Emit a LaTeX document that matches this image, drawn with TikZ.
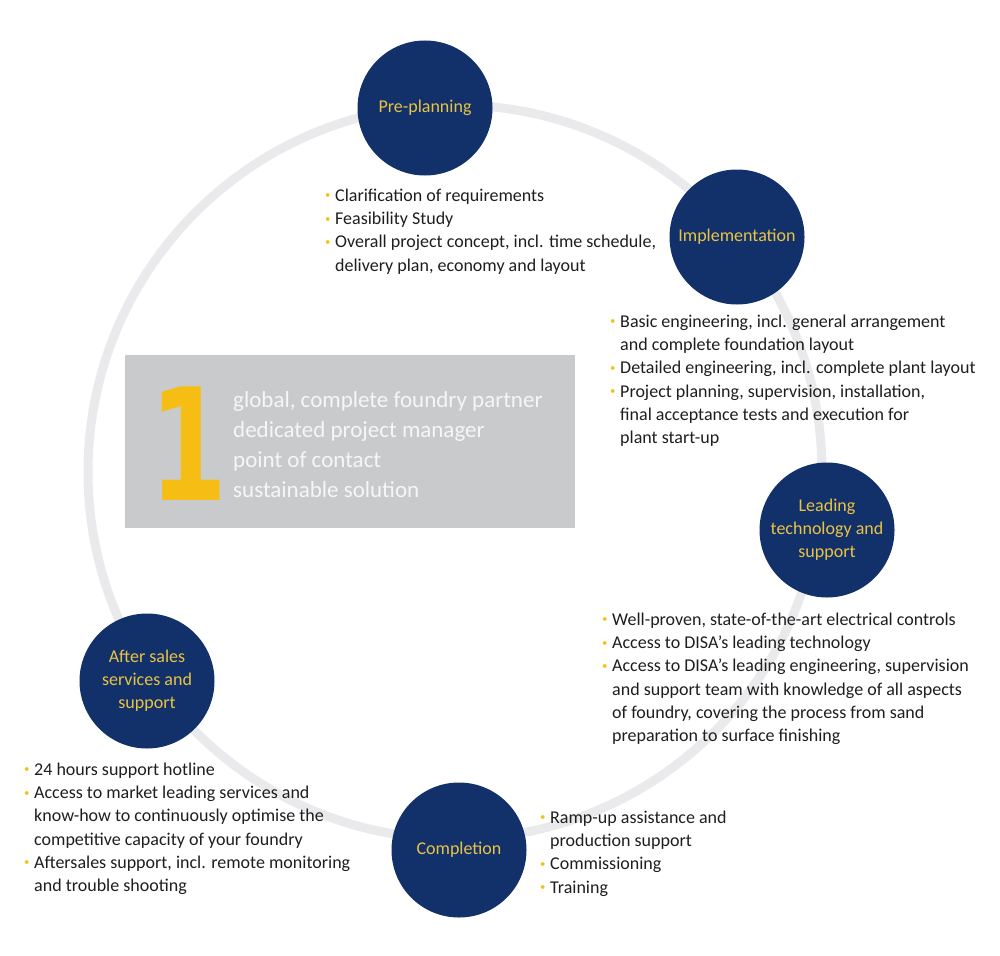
\documentclass[tikz,border=0pt]{standalone}
\usepackage{fontspec}
\setmainfont{Carlito}
\newfontfamily\numfont{DejaVu Sans}
\usetikzlibrary{positioning}

\definecolor{disanavy}{HTML}{12306A}
\definecolor{disayellow}{HTML}{F6BE14}
\definecolor{labelyellow}{HTML}{E9C443}
\definecolor{dotyellow}{HTML}{F2C21C}
\definecolor{ringgray}{HTML}{EAEAEC}
\definecolor{boxgray}{HTML}{C9CACC}
\definecolor{boxtext}{HTML}{F6F6F6}
\definecolor{textdark}{HTML}{1E1E1E}

\newcommand{\bulletmark}{\textcolor{dotyellow}{\raisebox{0.3ex}{\scalebox{0.6}{\textbullet}}}}
\newcommand{\itemrows}[1]{\begin{tabular}{@{}p{10pt}@{}l@{}}#1\end{tabular}}

\begin{document}
\begin{tikzpicture}[x=1pt, y=-1pt,
  stage/.style={circle, fill=disanavy, minimum size=135pt, inner sep=0pt,
    text=labelyellow, align=center, font=\fontsize{18}{23}\selectfont},
  itemlist/.style={anchor=north west, inner sep=0pt, text=textdark,
    font=\fontsize{18}{23.2}\selectfont},
  ring/.style={draw=ringgray, line width=9pt}]

\useasboundingbox (0,0) rectangle (1000,955);

% Ring through the stages
\draw [ring] (455,472) circle [radius=367pt];

% Centre box
\node [fill=boxgray, minimum width=450pt, minimum height=173pt, inner sep=0pt] (core) at (350,441.5) {};
\node [anchor=base, inner sep=0pt, text=disayellow, font=\numfont\bfseries\fontsize{156}{156}\selectfont, xscale=0.72] (one) at (189,500) {1};
\node [anchor=north west, inner sep=0pt, text=boxtext, font=\fontsize{23}{30}\selectfont] (claims) at (233,386)
  {\begin{tabular}{@{}l@{}}global, complete foundry partner\\ dedicated project manager\\ point of contact\\ sustainable solution\end{tabular}};

% Stages
\node [stage] (pre) at (425,108) {Pre-planning};
\node [stage] (impl) at (737,237) {Implementation};
\node [stage] (tech) at (827,530) {Leading\\technology and\\support};
\node [stage] (compl) at (459,850) {Completion};
\node [stage] (after) at (147,681) {After sales\\services and\\support};

% Lists
\node [itemlist] (prelist) at (325,185) {\itemrows{
  \bulletmark & Clarification of requirements\\
  \bulletmark & Feasibility Study\\
  \bulletmark & Overall project concept, incl. time schedule,\\
   & delivery plan, economy and layout}};

\node [itemlist] (impllist) at (610,311) {\itemrows{
  \bulletmark & Basic engineering, incl. general arrangement\\
   & and complete foundation layout\\
  \bulletmark & Detailed engineering, incl. complete plant layout\\
  \bulletmark & Project planning, supervision, installation,\\
   & final acceptance tests and execution for\\
   & plant start-up}};

\node [itemlist] (techlist) at (602,609) {\itemrows{
  \bulletmark & Well-proven, state-of-the-art electrical controls\\
  \bulletmark & Access to DISA's leading technology\\
  \bulletmark & Access to DISA's leading engineering, supervision\\
   & and support team with knowledge of all aspects\\
   & of foundry, covering the process from sand\\
   & preparation to surface finishing}};

\node [itemlist] (afterlist) at (24,759) {\itemrows{
  \bulletmark & 24 hours support hotline\\
  \bulletmark & Access to market leading services and\\
   & know-how to continuously optimise the\\
   & competitive capacity of your foundry\\
  \bulletmark & Aftersales support, incl. remote monitoring\\
   & and trouble shooting}};

\node [itemlist] (compllist) at (540,807) {\itemrows{
  \bulletmark & Ramp-up assistance and\\
   & production support\\
  \bulletmark & Commissioning\\
  \bulletmark & Training}};

\end{tikzpicture}
\end{document}
